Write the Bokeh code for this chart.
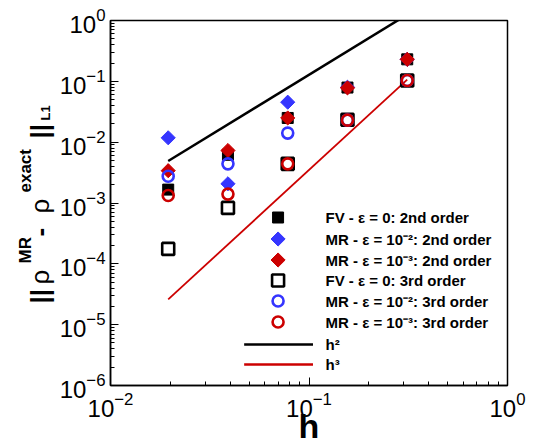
import numpy as np
from bokeh.plotting import figure
from bokeh.layouts import row
from bokeh.models import Range1d, FixedTicker, Label
from bokeh.core.properties import value
from bokeh.embed import file_html
from bokeh.resources import INLINE

# ---------------- data ----------------
h = [0.01953, 0.03906, 0.07813, 0.15625, 0.3125]
fv_2nd = [1.66e-3, 6.2e-3, 0.025, 0.079, 0.23]
mr2_2nd = [0.0118, 2.07e-3, 0.0454, 0.080, 0.23]
mr3_2nd = [3.4e-3, 7.3e-3, 0.025, 0.078, 0.23]
fv_3rd = [1.76e-4, 8.3e-4, 4.4e-3, 0.0233, 0.103]
mr2_3rd = [2.75e-3, 4.4e-3, 0.0141, 0.023, 0.103]
mr3_3rd = [1.33e-3, 1.4e-3, 4.4e-3, 0.023, 0.103]
h_ref = [0.01953, 0.3125]
h2_ref = [4.9e-3, 1.25]
h3_ref = [2.6e-5, 0.107]
legend_labels = [
    "FV - \u03b5 = 0: 2nd order",
    "MR - \u03b5 = 10\u207b\u00b2: 2nd order",
    "MR - \u03b5 = 10\u207b\u00b3: 2nd order",
    "FV - \u03b5 = 0: 3rd order",
    "MR - \u03b5 = 10\u207b\u00b2: 3rd order",
    "MR - \u03b5 = 10\u207b\u00b3: 3rd order",
    "h\u00b2",
    "h\u00b3",
]
x_ticks = [0.01, 0.1, 1.0]
y_ticks = [1e-6, 1e-5, 1e-4, 1e-3, 1e-2, 1e-1, 1.0]
x_title = "h"
# y title pieces: norm bars, rho, superscripts, subscript
y_title_main = ["||", "-", "||"]
y_title_rho = ["\u03c1", "\u03c1"]
y_title_sup = ["MR", "exact"]
y_title_sub = ["L1"]

# ---------------- layout ----------------
W, H = 539, 448
LW = 56                      # width of the strip holding the y title
FL, FR, FT, FB = 109, 507, 20, 385
BLUE = "#3535ff"
RED = "#cc0000"
FONT = "Liberation Sans"

p = figure(width=W - LW, height=H, x_axis_type="log", y_axis_type="log",
           x_range=Range1d(0.01, 1.0), y_range=Range1d(1e-6, 1.0),
           output_backend="svg", toolbar_location=None,
           min_border_left=FL - LW, min_border_right=W - FR,
           min_border_top=FT, min_border_bottom=H - FB)
p.grid.visible = False
p.background_fill_color = "white"
p.border_fill_color = "white"
p.outline_line_color = "black"
p.outline_line_width = 1.5


def minor(ticks):
    out = []
    for t in ticks[:-1]:
        out += [m * t for m in range(2, 10)]
    return out


p.xaxis.ticker = FixedTicker(ticks=x_ticks, minor_ticks=minor(x_ticks))
p.yaxis.ticker = FixedTicker(ticks=y_ticks, minor_ticks=minor(y_ticks))
for ax in (p.xaxis[0], p.yaxis[0]):
    ax.major_tick_in = 8
    ax.major_tick_out = 0
    ax.minor_tick_in = 4
    ax.minor_tick_out = 0
    ax.axis_line_width = 1.5
    ax.major_tick_line_width = 1
    ax.minor_tick_line_width = 1
    ax.major_label_text_font = FONT
    ax.major_label_text_font_size = "24px"
    ax.major_label_text_color = "black"
ax_x, ax_y = p.xaxis[0], p.yaxis[0]
ax_x.major_label_standoff = 6
ax_y.major_label_standoff = 5

p.xaxis.axis_label = x_title
p.xaxis.axis_label_text_font = FONT
p.xaxis.axis_label_text_font_size = "34px"
p.xaxis.axis_label_text_font_style = "bold"
p.xaxis.axis_label_text_color = "black"
p.xaxis.axis_label_standoff = -13


def px_x(px):
    return 10 ** (-2 + (px - FL) / (FR - FL) * 2)


def px_y(py):
    return 10 ** (-(py - FT) / (FB - FT) * 6)


# reference lines
p.line(h_ref, h2_ref, line_color="black", line_width=2.5)
p.line(h_ref, h3_ref, line_color=RED, line_width=1.8)

# data markers
series = [
    (fv_2nd, dict(marker="square", size=11, fill_color="black", line_color="black", line_width=1)),
    (mr2_2nd, dict(marker="square", size=10, angle=np.pi / 4, fill_color=BLUE, line_color=BLUE, line_width=1)),
    (mr3_2nd, dict(marker="square", size=10, angle=np.pi / 4, fill_color=RED, line_color=RED, line_width=1)),
    (fv_3rd, dict(marker="square", size=12, fill_color=None, line_color="black", line_width=2.6)),
    (mr2_3rd, dict(marker="circle", size=11, fill_color=None, line_color=BLUE, line_width=2.6)),
    (mr3_3rd, dict(marker="circle", size=11, fill_color=None, line_color=RED, line_width=2.6)),
]
for vals, st in series:
    p.scatter(h, vals, **st)

# legend (manual)
rows = [217, 238.5, 259.5, 280, 300.5, 321.5, 344, 364]
for (vals, st), ry in zip(series, rows[:6]):
    p.scatter([px_x(277)], [px_y(ry)], **st)
p.line([px_x(243), px_x(312)], [px_y(rows[6])] * 2, line_color="black", line_width=2.5)
p.line([px_x(243), px_x(312)], [px_y(rows[7])] * 2, line_color=RED, line_width=2.5)

for txt, ry in zip(legend_labels, rows):
    p.add_layout(Label(x=324 - FL, y=FB - ry, x_units="screen", y_units="screen",
                       text=txt, text_align="left", text_baseline="middle",
                       text_font=FONT, text_font_size="15px", text_font_style="bold",
                       text_color="black"))

# ---------------- y title strip ----------------
# its frame is aligned with the main frame (top FT, bottom FB); the y range is
# given in page pixels so that the title pieces sit at the reference's place
q = figure(width=LW, height=H, x_range=Range1d(0, LW), y_range=Range1d(FB, FT),
           output_backend="svg", toolbar_location=None,
           x_axis_location=None, y_axis_location=None,
           min_border_left=0, min_border_right=0,
           min_border_top=FT, min_border_bottom=H - FB)
q.grid.visible = False
q.outline_line_color = None
q.background_fill_color = "white"
q.border_fill_color = "white"

A = np.pi / 2


def ytext(xs, ys, texts, size, bold=True):
    q.text(x=xs, y=ys, text=texts, angle=A, text_align="left", text_baseline="alphabetic",
           text_font=value(FONT), text_font_size=value(f"{size}px"),
           text_font_style="bold" if bold else "normal", text_color="black")


ytext([39, 39, 39], [303, 236, 138], y_title_main, 26)
ytext([39, 39], [284, 213], y_title_rho, 26, bold=False)
ytext([25, 25], [263, 192], y_title_sup, 17)
ytext([45], [120], y_title_sub, 13)

layout = row(q, p, spacing=0)
open("out.html", "w").write(file_html(layout, INLINE))
